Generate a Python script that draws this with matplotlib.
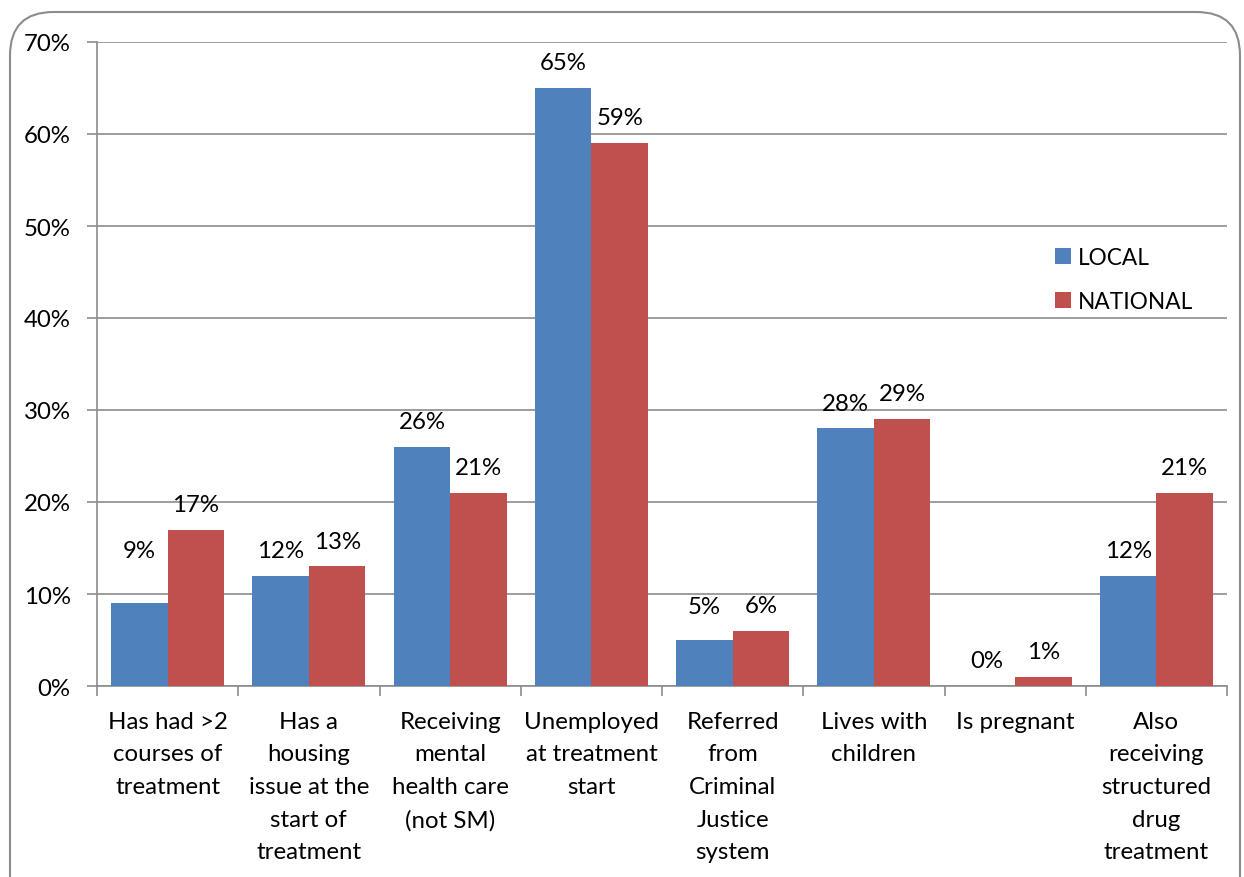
import matplotlib
matplotlib.use("Agg")
import matplotlib.pyplot as plt
from matplotlib.patches import FancyBboxPatch
import numpy as np

categories = [
    "Has had >2\ncourses of\ntreatment",
    "Has a\nhousing\nissue at the\nstart of\ntreatment",
    "Receiving\nmental\nhealth care\n(not SM)",
    "Unemployed\nat treatment\nstart",
    "Referred\nfrom\nCriminal\nJustice\nsystem",
    "Lives with\nchildren",
    "Is pregnant",
    "Also\nreceiving\nstructured\ndrug\ntreatment",
]
local = [9, 12, 26, 65, 5, 28, 0, 12]
national = [17, 13, 21, 59, 6, 29, 1, 21]
yticks = [0, 10, 20, 30, 40, 50, 60, 70]

plt.rcParams['font.family'] = ['Lato', 'DejaVu Sans']
FS = 17.3

W, H = 12.44, 8.78
fig = plt.figure(figsize=(W, H), dpi=100)

# outer rounded border
border = FancyBboxPatch((10 / 1244, -0.05), (1240 - 10) / 1244, (878 - 13) / 878 + 0.05,
                        boxstyle="round,pad=0,rounding_size=0.035",
                        transform=fig.transFigure, fill=False, edgecolor="#8c8c8c",
                        linewidth=1.5, mutation_aspect=1244 / 878)
fig.patches.append(border)

left, right = 97 / 1244, 1227 / 1244
top, bottom = 1 - 43 / 878, 1 - 687 / 878
ax = fig.add_axes([left, bottom, right - left, top - bottom])

n = len(categories)
x = np.arange(n)
bw = 0.4
ax.bar(x - bw / 2, local, bw, color="#4F81BD", label="LOCAL", zorder=3)
ax.bar(x + bw / 2, national, bw, color="#C0504D", label="NATIONAL", zorder=3)

# extra lift for a few labels (as placed in the original)
local_extra = [3.0, 0, 0, 0, 0.9, 0, 0, 0]
national_extra = [0, 0, 0, 0, 0, 0, 0, 0]
for xi, v, e in zip(x, local, local_extra):
    ax.text(xi - bw / 2, v + 2.75 + e, f"{v}%", ha="center", va="center", fontsize=FS)
for xi, v, e in zip(x, national, national_extra):
    ax.text(xi + bw / 2, v + 2.75 + e, f"{v}%", ha="center", va="center", fontsize=FS)

ax.set_xlim(-0.5, n - 0.5)
ax.set_ylim(0, 70)
ax.set_yticks(yticks)
ax.set_yticklabels([f"{t}%" for t in yticks], fontsize=FS)
ax.yaxis.grid(True, color="#8c8c8c", linewidth=1.2, zorder=0)
ax.set_axisbelow(True)

# x ticks at category boundaries, labels centered
ax.set_xticks(np.arange(n + 1) - 0.5)
ax.set_xticklabels([])
ax.tick_params(axis="x", length=7, width=1.2, color="#8c8c8c", direction="out")
ax.tick_params(axis="y", length=7, width=1.2, color="#8c8c8c", direction="out", pad=12)
for xi, lab in zip(x, categories):
    ax.text(xi, -2.7, lab, ha="center", va="top", fontsize=FS, linespacing=1.68,
            transform=ax.transData)

for s in ["top", "right"]:
    ax.spines[s].set_visible(False)
for s in ["left", "bottom"]:
    ax.spines[s].set_color("#8c8c8c")
    ax.spines[s].set_linewidth(1.2)

leg = ax.legend(loc="upper left", bbox_to_anchor=(0.83, 0.714), frameon=False,
                fontsize=16.3, handlelength=0.7, handleheight=0.7, handletextpad=0.3,
                labelspacing=1.05)

fig.savefig("out.png", dpi=100)
